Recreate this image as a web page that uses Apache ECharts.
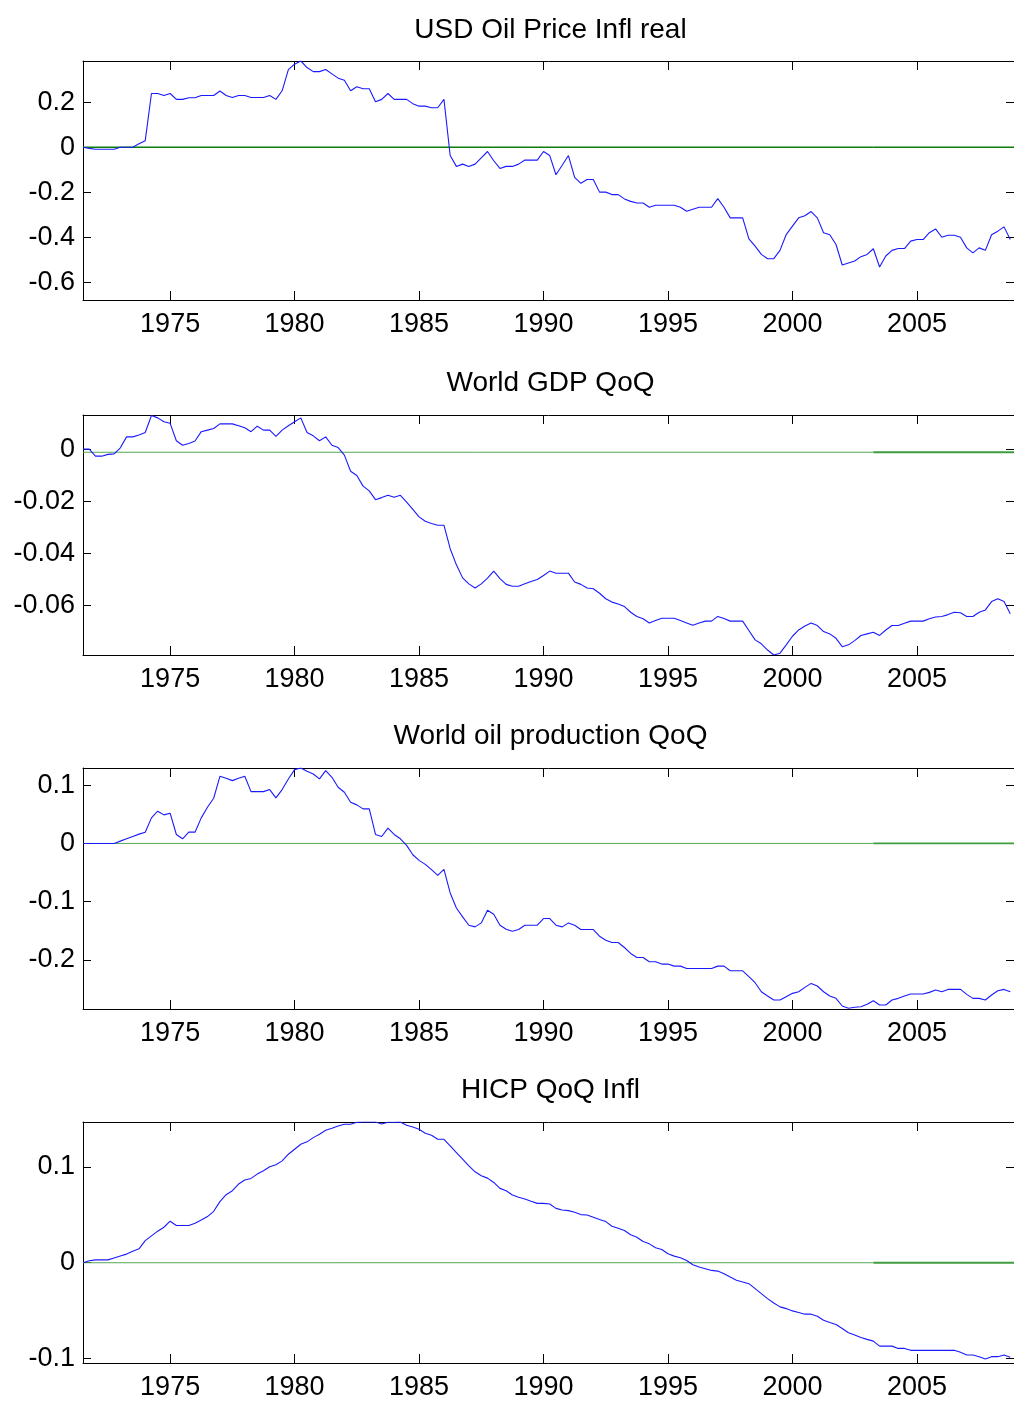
<!DOCTYPE html>
<html><head><meta charset="utf-8">
<script src="https://cdn.jsdelivr.net/npm/echarts@6/dist/echarts.min.js"></script>
<style>html,body{margin:0;padding:0;background:#fff}#c{width:1014px;height:1401px}</style>
</head><body><div id="c"></div>
<script>
// ---- data (quarterly, first observation 1971 Q3) ----
const startYear = 1971.5;
const titles = ['USD Oil Price Infl real', 'World GDP QoQ', 'World oil production QoQ', 'HICP QoQ Infl'];

const oilPriceReal = [
  0, -0.005, -0.009, -0.009, -0.009, -0.009, 0, 0, 0, 0.015, 0.029,
  0.238, 0.238, 0.229, 0.238, 0.212, 0.212, 0.219, 0.219, 0.229, 0.229,
  0.229, 0.249, 0.229, 0.22, 0.229, 0.229, 0.22, 0.22, 0.22, 0.229,
  0.212, 0.25, 0.344, 0.368, 0.382, 0.353, 0.335, 0.335, 0.344, 0.325,
  0.306, 0.297, 0.25, 0.268, 0.259, 0.259, 0.201, 0.212, 0.238, 0.212,
  0.212, 0.212, 0.193, 0.182, 0.182, 0.175, 0.175, 0.212, -0.037, -0.085,
  -0.075, -0.085, -0.075, -0.047, -0.019, -0.06, -0.094, -0.085, -0.085, -0.075,
  -0.057, -0.057, -0.057, -0.019, -0.037, -0.122, -0.08, -0.037, -0.134, -0.16,
  -0.143, -0.143, -0.199, -0.199, -0.21, -0.21, -0.229, -0.24, -0.247, -0.247,
  -0.266, -0.257, -0.257, -0.257, -0.257, -0.266, -0.284, -0.275, -0.266, -0.266,
  -0.266, -0.228, -0.266, -0.313, -0.313, -0.313, -0.406, -0.438, -0.475, -0.494,
  -0.494, -0.457, -0.387, -0.35, -0.313, -0.304, -0.285, -0.313, -0.379, -0.388,
  -0.431, -0.522, -0.513, -0.504, -0.485, -0.475, -0.45, -0.531, -0.482, -0.457,
  -0.449, -0.449, -0.416, -0.409, -0.409, -0.379, -0.362, -0.399, -0.39, -0.39,
  -0.399, -0.446, -0.468, -0.446, -0.457, -0.388, -0.372, -0.353, -0.409
];

const worldGdp = [
  0, 0, -0.0027, -0.0027, -0.002, -0.0018, 0.0005, 0.0047, 0.0047, 0.0054, 0.0064,
  0.0129, 0.012, 0.0105, 0.0099, 0.0032, 0.0015, 0.0022, 0.0031, 0.0067, 0.0073,
  0.0079, 0.0097, 0.0097, 0.0097, 0.009, 0.0082, 0.0067, 0.0088, 0.0073, 0.0073,
  0.0049, 0.0073, 0.009, 0.0105, 0.012, 0.0064, 0.0051, 0.0032, 0.0047, 0.0015,
  0.0006, -0.0023, -0.0085, -0.0101, -0.0142, -0.016, -0.0194, -0.0186, -0.0177, -0.0185,
  -0.0177, -0.0203, -0.0231, -0.026, -0.0277, -0.0285, -0.0292, -0.0292, -0.0382, -0.0444,
  -0.0494, -0.0517, -0.0533, -0.0517, -0.0495, -0.0468, -0.0497, -0.0519, -0.0526, -0.0526,
  -0.0517, -0.0508, -0.05, -0.0485, -0.0468, -0.0476, -0.0476, -0.0476, -0.051, -0.0519,
  -0.0533, -0.0536, -0.0553, -0.0574, -0.0587, -0.0594, -0.0604, -0.0626, -0.0642, -0.0651,
  -0.0667, -0.0658, -0.0649, -0.0649, -0.0649, -0.0658, -0.0667, -0.0676, -0.0667, -0.066,
  -0.066, -0.0642, -0.065, -0.066, -0.066, -0.066, -0.0696, -0.0732, -0.0747, -0.0771,
  -0.079, -0.0783, -0.0751, -0.0718, -0.0694, -0.0679, -0.0667, -0.0677, -0.07, -0.0709,
  -0.0726, -0.0758, -0.0751, -0.0735, -0.0715, -0.0709, -0.0703, -0.0715, -0.0694, -0.0677,
  -0.0677, -0.0668, -0.066, -0.066, -0.066, -0.0651, -0.0644, -0.0642, -0.0635, -0.0626,
  -0.0628, -0.0642, -0.0642, -0.0626, -0.0617, -0.0585, -0.0574, -0.0585, -0.0632
];

const worldOilProd = [
  0, 0, 0, 0, 0, 0, 0.004, 0.008, 0.012, 0.016, 0.0194,
  0.044, 0.0554, 0.0491, 0.052, 0.0154, 0.008, 0.0194, 0.0194, 0.044, 0.0623,
  0.0777, 0.1154, 0.112, 0.108, 0.112, 0.1154, 0.0891, 0.0891, 0.0891, 0.0926,
  0.0783, 0.0926, 0.1109, 0.1269, 0.1297, 0.124, 0.1194, 0.1109, 0.1251, 0.1137,
  0.0966, 0.088, 0.0709, 0.0663, 0.0594, 0.0594, 0.0154, 0.012, 0.0263, 0.0154,
  0.008, -0.0034, -0.0194, -0.0291, -0.036, -0.0451, -0.0549, -0.0446, -0.0851, -0.1109,
  -0.1263, -0.1406, -0.1434, -0.1366, -0.1149, -0.1217, -0.1406, -0.1474, -0.1509, -0.148,
  -0.1406, -0.1406, -0.1406, -0.1291, -0.1291, -0.1406, -0.1434, -0.1366, -0.1406, -0.148,
  -0.148, -0.148, -0.1594, -0.1663, -0.1703, -0.1703, -0.1789, -0.1891, -0.196, -0.196,
  -0.2034, -0.2034, -0.2074, -0.2074, -0.2109, -0.2109, -0.2149, -0.2149, -0.2149, -0.2149,
  -0.2149, -0.2109, -0.2109, -0.2189, -0.2189, -0.2189, -0.2291, -0.2394, -0.2549, -0.2623,
  -0.2691, -0.2691, -0.2634, -0.2577, -0.2549, -0.2474, -0.2406, -0.2451, -0.2549, -0.2623,
  -0.2663, -0.2794, -0.2834, -0.2817, -0.2806, -0.2766, -0.2703, -0.2777, -0.2777, -0.2691,
  -0.2663, -0.2623, -0.2589, -0.2589, -0.2589, -0.256, -0.252, -0.2549, -0.2509, -0.2509,
  -0.2509, -0.2594, -0.2663, -0.2663, -0.2691, -0.2606, -0.2531, -0.2509, -0.2549
];

const hicpInfl = [
  0, 0.002, 0.003, 0.003, 0.003, 0.005, 0.007, 0.009, 0.012, 0.0145, 0.023,
  0.028, 0.0329, 0.037, 0.0433, 0.0388, 0.0388, 0.0388, 0.0412, 0.0446, 0.0481,
  0.0536, 0.0637, 0.0709, 0.0751, 0.082, 0.0862, 0.0879, 0.0924, 0.0958, 0.1,
  0.1021, 0.1062, 0.1131, 0.1183, 0.1235, 0.126, 0.1304, 0.1339, 0.1381, 0.1401,
  0.1426, 0.1443, 0.1443, 0.1464, 0.1467, 0.1467, 0.1467, 0.1446, 0.1464, 0.1464,
  0.1467, 0.1433, 0.1415, 0.1391, 0.135, 0.1329, 0.1287, 0.1287, 0.1218, 0.1149,
  0.108, 0.101, 0.0948, 0.0907, 0.0882, 0.0837, 0.0775, 0.0751, 0.0706, 0.0682,
  0.0664, 0.064, 0.0619, 0.0619, 0.0612, 0.0567, 0.055, 0.0543, 0.0526, 0.0502,
  0.0498, 0.0474, 0.045, 0.0429, 0.0381, 0.036, 0.0336, 0.0291, 0.0266, 0.0221,
  0.0197, 0.0156, 0.0138, 0.0093, 0.0069, 0.0052, 0.0024, -0.0021, -0.0045, -0.0062,
  -0.008, -0.0087, -0.0114, -0.0149, -0.0183, -0.02, -0.0218, -0.027, -0.0322, -0.0374,
  -0.0419, -0.046, -0.0478, -0.0502, -0.0519, -0.0536, -0.0536, -0.0557, -0.0599, -0.0623,
  -0.0644, -0.0685, -0.073, -0.0754, -0.0779, -0.0799, -0.0817, -0.0869, -0.0869, -0.0869,
  -0.0893, -0.0893, -0.0913, -0.0913, -0.0913, -0.0913, -0.0913, -0.0913, -0.0913, -0.0913,
  -0.0934, -0.0962, -0.0962, -0.0979, -0.1003, -0.0979, -0.0979, -0.0962, -0.0986
];

const xTickYears = [1975, 1980, 1985, 1990, 1995, 2000, 2005];
const yTickValues = [
  [0.2, 0, -0.2, -0.4, -0.6],
  [0, -0.02, -0.04, -0.06],
  [0.1, 0, -0.1, -0.2],
  [0.1, 0, -0.1]
];
const yRanges = [[-0.677, 0.382], [-0.079, 0.0131], [-0.2846, 0.1297], [-0.1045, 0.1467]];
const zeroLevels = [0, -0.0012, 0, 0];
const splitYear = 2003.25;
const xRange = [1971.5, 2008.9];

// ---- chart ----
const seriesValues = [oilPriceReal, worldGdp, worldOilProd, hicpInfl];
const quarters = oilPriceReal.map((_, i) => startYear + i * 0.25);

const LEFT = 83, WIDTH = 935;
const tops = [61, 415, 768, 1122];
const heights = [239, 240, 241, 241];
const titleY = [30, 383, 736, 1090];
const FONT = 'Liberation Sans, Arial, Helvetica, sans-serif';
const TICK_FS = 27, TITLE_FS = 28;

const grid = [], xAxis = [], yAxis = [], series = [], graphic = [];
for (let i = 0; i < 4; i++) {
  grid.push({left: LEFT, top: tops[i], width: WIDTH, height: heights[i], containLabel: false});
  const axLine = {show: true, onZero: false, lineStyle: {color: '#000', width: 1}};
  xAxis.push({
    type: 'value', gridIndex: i, position: 'bottom', min: xRange[0], max: xRange[1],
    axisLine: axLine,
    axisTick: {show: true, inside: true, length: 9, customValues: xTickYears, lineStyle: {color: '#000', width: 1}},
    axisLabel: {show: true, customValues: xTickYears, color: '#000', fontSize: TICK_FS, fontFamily: FONT, margin: 11, formatter: v => String(v)},
    splitLine: {show: false}
  });
  xAxis.push({
    type: 'value', gridIndex: i, position: 'top', min: xRange[0], max: xRange[1],
    axisLine: axLine,
    axisTick: {show: true, inside: true, length: 9, customValues: xTickYears, lineStyle: {color: '#000', width: 1}},
    axisLabel: {show: false},
    splitLine: {show: false}
  });
  yAxis.push({
    type: 'value', gridIndex: i, position: 'left', min: yRanges[i][0], max: yRanges[i][1],
    axisLine: axLine,
    axisTick: {show: true, inside: true, length: 8, customValues: yTickValues[i], lineStyle: {color: '#000', width: 1}},
    axisLabel: {show: true, customValues: yTickValues[i], color: '#000', fontSize: TICK_FS, fontFamily: FONT, margin: 8, padding: [8, 0, 0, 0], formatter: v => String(v)},
    splitLine: {show: false}
  });
  yAxis.push({
    type: 'value', gridIndex: i, position: 'right', min: yRanges[i][0], max: yRanges[i][1],
    axisLine: axLine,
    axisTick: {show: true, inside: true, length: 8, customValues: yTickValues[i], lineStyle: {color: '#000', width: 1}},
    axisLabel: {show: false},
    splitLine: {show: false}
  });
  const green1 = i === 0 ? '#0b7d0b' : '#55a855';
  const green2 = i === 0 ? '#0b7d0b' : '#3f9c3f';
  series.push({
    type: 'line', xAxisIndex: 2 * i, yAxisIndex: 2 * i, symbol: 'none', silent: true, z: 2,
    lineStyle: {color: green1, width: i === 0 ? 1.4 : 1},
    data: [[xRange[0], zeroLevels[i]], [splitYear, zeroLevels[i]]]
  });
  series.push({
    type: 'line', xAxisIndex: 2 * i, yAxisIndex: 2 * i, symbol: 'none', silent: true, z: 2,
    lineStyle: {color: green2, width: i === 0 ? 1.4 : 1.8},
    data: [[splitYear, zeroLevels[i]], [xRange[1], zeroLevels[i]]]
  });
  series.push({
    type: 'line', xAxisIndex: 2 * i, yAxisIndex: 2 * i, symbol: 'none', silent: true, z: 3,
    clip: true,
    lineStyle: {color: '#1a1aff', width: 1.1},
    data: quarters.map((t, k) => [t, seriesValues[i][k]])
  });
  graphic.push({
    type: 'text', x: LEFT + WIDTH / 2, y: titleY[i],
    style: {text: titles[i], fill: '#000', font: TITLE_FS + 'px ' + FONT, textAlign: 'center', textVerticalAlign: 'middle'}
  });
}

const chart = echarts.init(document.getElementById('c'), null, {renderer: 'canvas'});
chart.setOption({
  animation: false,
  backgroundColor: '#fff',
  grid, xAxis, yAxis, series, graphic
});
</script>
</body></html>
